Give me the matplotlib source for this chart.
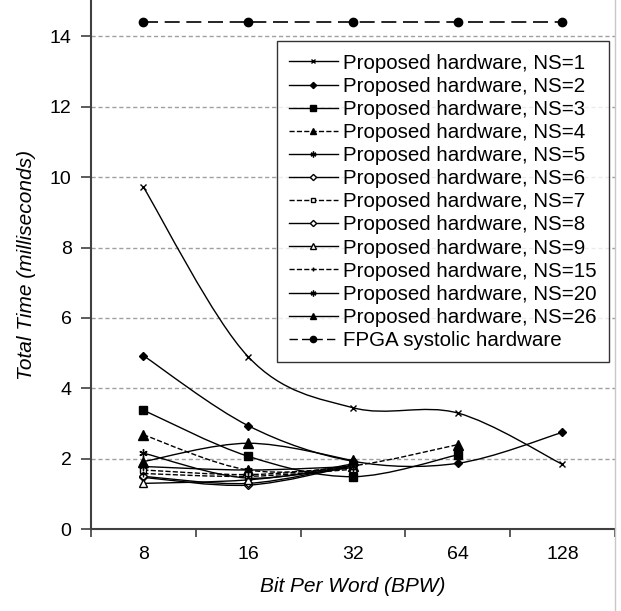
#!/usr/bin/env python3

import numpy as np
import matplotlib.pyplot as plt
from matplotlib.path import Path
from matplotlib.patches import PathPatch
from matplotlib.lines import Line2D


bpw = ['8', '16', '32', '64', '128']

ns1 = [9.72, 4.90, 3.45, 3.30, 1.84]
ns2 = [4.93, 2.94, 1.93, 1.87, 2.75]
ns3 = [3.38, 2.07, 1.49, 2.11]
ns4 = [2.68, 1.68, 1.80, 2.40]
ns5 = [2.16, 1.45, 1.85]
ns6 = [1.47, 1.25, 1.80]
ns7 = [1.68, 1.55, 1.75]
ns8 = [1.50, 1.30, 1.82]
ns9 = [1.30, 1.40, 1.75]
ns15 = [1.58, 1.50, 1.70]
ns20 = [1.78, 1.68, 1.78]
ns26 = [1.92, 2.44, 1.95]
fpga = [14.4, 14.4, 14.4, 14.4, 14.4]

series = [
    ('Proposed hardware, NS=1', ns1, '-', 'x', 'k', 5),
    ('Proposed hardware, NS=2', ns2, '-', 'D', 'k', 4.5),
    ('Proposed hardware, NS=3', ns3, '-', 's', 'k', 6),
    ('Proposed hardware, NS=4', ns4, '--', '^', 'k', 6.5),
    ('Proposed hardware, NS=5', ns5, '-', (6, 2, 0), 'k', 6),
    ('Proposed hardware, NS=6', ns6, '-', 'D', 'w', 4.5),
    ('Proposed hardware, NS=7', ns7, '--', 's', 'w', 5),
    ('Proposed hardware, NS=8', ns8, '-', 'D', 'w', 4.5),
    ('Proposed hardware, NS=9', ns9, '-', '^', 'w', 5.5),
    ('Proposed hardware, NS=15', ns15, '--', '+', 'k', 5),
    ('Proposed hardware, NS=20', ns20, '-', (6, 2, 0), 'k', 6),
    ('Proposed hardware, NS=26', ns26, '-', '^', 'k', 6.5),
]

plt.rcParams['font.family'] = ['Liberation Sans', 'DejaVu Sans']


def smooth_path(x, y):
    # Excel-style smoothed line: cubic bezier through the points
    pts = np.column_stack([x, y]).astype(float)
    n = len(pts)
    verts = [pts[0]]
    codes = [Path.MOVETO]
    for i in range(n - 1):
        p0 = pts[i - 1] if i > 0 else pts[i]
        p1 = pts[i]
        p2 = pts[i + 1]
        p3 = pts[i + 2] if i + 2 < n else pts[i + 1]
        c1 = p1 + (p2 - p0) / 6.0
        c2 = p2 - (p3 - p1) / 6.0
        verts += [c1, c2, p2]
        codes += [Path.CURVE4] * 3
    return Path(verts, codes)


fig = plt.figure(figsize=(6.21, 6.11), dpi=100)
ax = fig.add_axes([0.1465, 0.134, 0.8435, 0.864])

for label, vals, ls, mk, fc, ms in series:
    xs = np.arange(len(vals))
    ax.add_patch(PathPatch(smooth_path(xs, vals), facecolor='none', edgecolor='k',
                           linestyle=ls, linewidth=1.0, zorder=3))
    ax.plot(xs, vals, linestyle='none', marker=mk, color='k', markerfacecolor=fc,
            markeredgecolor='k', markersize=ms, markeredgewidth=1.0, zorder=4)

xs = np.arange(len(fpga))
ax.plot(xs, fpga, linestyle=(0, (9, 4)), color='k', linewidth=1.2, marker='o',
        markersize=6, zorder=4)

handles = [Line2D([], [], linestyle=ls, marker=mk, color='k', markerfacecolor=fc,
                  markersize=ms * 0.7, linewidth=1.0)
           for _, _, ls, mk, fc, ms in series]
handles.append(Line2D([], [], linestyle=(0, (6, 3)), marker='o', color='k',
                      markersize=4.5, linewidth=1.0))
labels = [s[0] for s in series] + ['FPGA systolic hardware']

leg = ax.legend(handles, labels, loc='upper left', bbox_to_anchor=(0.355, 0.924),
                fontsize=14.8, frameon=True, fancybox=False, edgecolor='k',
                handlelength=2.35, handletextpad=0.25, labelspacing=0.2,
                borderpad=0.6, borderaxespad=0)
leg.get_frame().set_linewidth(1.0)

ax.set_xlim(-0.5, 4.5)
ax.set_ylim(0, 15)
ax.set_yticks(np.arange(0, 15, 2))
ax.set_xticks(np.arange(len(bpw)))
ax.set_xticklabels(bpw)
ax.set_xticks(np.arange(-0.5, 5, 1), minor=True)
ax.tick_params(axis='x', which='major', length=0, pad=12, labelsize=14)
ax.tick_params(axis='x', which='minor', length=6, width=1.2, direction='out', color='#404040')
ax.tick_params(axis='y', length=7, width=1.2, pad=7, labelsize=14, color='#404040')

for y in range(2, 15, 2):
    ax.axhline(y, color='#a0a0a0', linestyle=(0, (3, 2)), linewidth=1.0, zorder=1)

for side in ['top', 'right']:
    ax.spines[side].set_visible(False)
for side in ['left', 'bottom']:
    ax.spines[side].set_color('#404040')
    ax.spines[side].set_linewidth(1.5)

ax.set_xlabel('Bit Per Word (BPW)', fontsize=15, style='italic', labelpad=10)
ax.set_ylabel('Total Time (milliseconds)', fontsize=15, style='italic', labelpad=10)

fig.add_artist(Line2D([0.991, 0.991], [0, 1], transform=fig.transFigure,
                      color='#c8c8c8', linewidth=1.0))

fig.savefig('out.png', dpi=100)
